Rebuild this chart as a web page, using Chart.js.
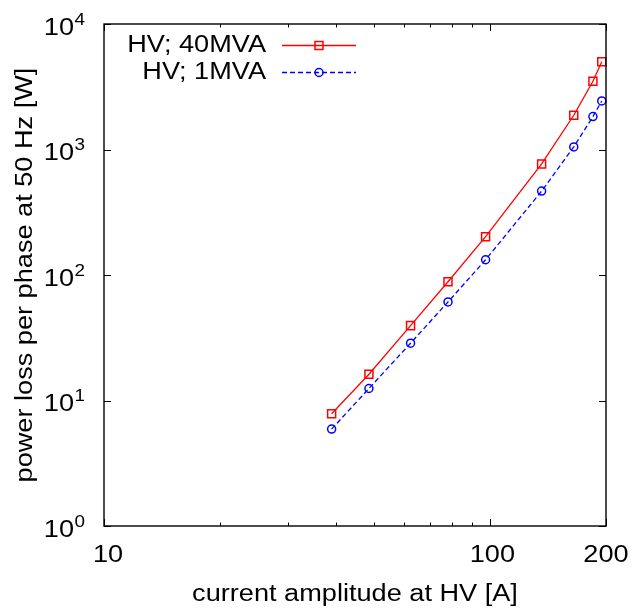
<!DOCTYPE html>
<html>
<head>
<meta charset="utf-8">
<script src="https://cdn.jsdelivr.net/npm/chart.js@4.4.1/dist/chart.umd.min.js"></script>
<style>
    html, body { margin: 0; padding: 0; background: #fff; }
    canvas { display: block; }
</style>
</head>
<body>
<canvas id="lossChart" width="636" height="614"></canvas>
<script>
// current amplitude at HV [A]
const current = [38.9, 48.6, 62.3, 77.9, 97.5, 136.2, 165, 185, 195];
// power loss per phase [W]
const loss40MVA = [7.84, 16.2, 39.5, 88.4, 202, 768, 1875, 3495, 5012];
const loss1MVA = [5.92, 12.46, 28.6, 61.0, 132.3, 466, 1049, 1830, 2436];

const seriesNames = ["HV; 40MVA", "HV; 1MVA"];
const xMajorTicks = [10, 100, 200];
const xMinorTicks = [20, 30, 40, 50, 60, 70, 80, 90];
const yMajorTicks = [1, 10, 100, 1000, 10000];
const xTickLabels = ["10", "100", "200"];
const yTickExponents = ["0", "1", "2", "3", "4"];

const FONT = '"Liberation Sans", Arial, Helvetica, sans-serif';
const STRETCH = 1.18; // the original text is a bit wider than Liberation Sans

function toPoints(xs, ys) {
    return xs.map((x, i) => ({ x: x, y: ys[i] }));
}

function wideText(ctx, text, x, y, size, align, angle) {
    ctx.save();
    ctx.translate(x, y);
    if (angle) ctx.rotate(angle);
    ctx.scale(STRETCH, 1);
    ctx.font = size + "px " + FONT;
    ctx.textAlign = align;
    ctx.fillText(text, 0, 0);
    ctx.restore();
}

// gnuplot style frame, inward ticks, labels, titles and key
const gnuplotFrame = {
    id: "gnuplotFrame",
    afterDraw(chart) {
        const ctx = chart.ctx;
        const area = chart.chartArea;
        const xs = chart.scales.x;
        const ys = chart.scales.y;
        ctx.save();

        ctx.strokeStyle = "#000";
        ctx.lineWidth = 1;
        ctx.beginPath();
        xMajorTicks.forEach(v => {
            const px = Math.round(xs.getPixelForValue(v)) + 0.5;
            ctx.moveTo(px, area.bottom); ctx.lineTo(px, area.bottom - 7);
            ctx.moveTo(px, area.top); ctx.lineTo(px, area.top + 7);
        });
        xMinorTicks.forEach(v => {
            const px = Math.round(xs.getPixelForValue(v)) + 0.5;
            ctx.moveTo(px, area.bottom); ctx.lineTo(px, area.bottom - 3.5);
            ctx.moveTo(px, area.top); ctx.lineTo(px, area.top + 3.5);
        });
        yMajorTicks.forEach(v => {
            const py = Math.round(ys.getPixelForValue(v)) + 0.5;
            ctx.moveTo(area.left, py); ctx.lineTo(area.left + 7, py);
            ctx.moveTo(area.right, py); ctx.lineTo(area.right - 7, py);
        });
        ctx.stroke();

        ctx.lineWidth = 1.4;
        ctx.strokeRect(area.left, area.top, area.right - area.left, area.bottom - area.top);

        // tick labels
        ctx.fillStyle = "#000";
        ctx.textBaseline = "alphabetic";
        const xNudge = [4, 2.5, 0];
        xMajorTicks.forEach((v, i) => {
            wideText(ctx, xTickLabels[i], xs.getPixelForValue(v) + xNudge[i], 562, 23, "center");
        });
        yMajorTicks.forEach((v, i) => {
            const py = ys.getPixelForValue(v);
            wideText(ctx, "10", 74, py + 10.5, 23, "right");
            wideText(ctx, yTickExponents[i], 74.5, py + 0.5, 16, "left");
        });

        // axis titles
        wideText(ctx, "current amplitude at HV [A]", (area.left + area.right) / 2, 601, 23, "center");
        wideText(ctx, "power loss per phase at 50 Hz [W]", 32, (area.top + area.bottom) / 2, 23, "center", -Math.PI / 2);

        // key
        const rows = [45, 72];
        chart.data.datasets.forEach((ds, i) => {
            const y = rows[i];
            ctx.textBaseline = "middle";
            ctx.fillStyle = "#000";
            wideText(ctx, seriesNames[i], 266, y + 1, 23, "right");
            ctx.strokeStyle = ds.borderColor;
            ctx.lineWidth = ds.borderWidth;
            ctx.setLineDash(ds.borderDash || []);
            ctx.beginPath();
            ctx.moveTo(282, y + 0.5);
            ctx.lineTo(356, y + 0.5);
            ctx.stroke();
            ctx.setLineDash([]);
            ctx.fillStyle = "#fff";
            ctx.lineWidth = ds.pointBorderWidth;
            ctx.beginPath();
            if (ds.pointStyle === "rect") {
                ctx.rect(315, y - 3.5, 8, 8);
            } else {
                ctx.arc(319, y + 0.5, 4, 0, Math.PI * 2);
            }
            ctx.stroke();
        });

        ctx.restore();
    }
};

new Chart(document.getElementById("lossChart"), {
    type: "line",
    data: {
        datasets: [
            {
                label: seriesNames[0],
                data: toPoints(current, loss40MVA),
                borderColor: "#ff0000",
                borderWidth: 1.3,
                pointStyle: "rect",
                pointRadius: 5.66,
                pointBorderWidth: 1.5,
                pointBorderColor: "#ff0000",
                pointBackgroundColor: "rgba(0,0,0,0)",
                fill: false,
                tension: 0,
                clip: false
            },
            {
                label: seriesNames[1],
                data: toPoints(current, loss1MVA),
                borderColor: "#0000ff",
                borderWidth: 1.3,
                borderDash: [5, 3],
                pointStyle: "circle",
                pointRadius: 4,
                pointBorderWidth: 1.5,
                pointBorderColor: "#0000ff",
                pointBackgroundColor: "rgba(0,0,0,0)",
                fill: false,
                tension: 0,
                clip: false
            }
        ]
    },
    options: {
        responsive: false,
        animation: false,
        layout: { padding: { top: 24, right: 30, left: 0, bottom: 0 } },
        plugins: {
            legend: { display: false },
            tooltip: { enabled: false }
        },
        scales: {
            x: {
                type: "logarithmic",
                min: 10,
                max: 200,
                ticks: { display: false },
                grid: { display: false },
                border: { display: false },
                afterFit: s => { s.height = 88; }
            },
            y: {
                type: "logarithmic",
                min: 1,
                max: 10000,
                ticks: { display: false },
                grid: { display: false },
                border: { display: false },
                afterFit: s => { s.width = 104; }
            }
        }
    },
    plugins: [gnuplotFrame]
});
</script>
</body>
</html>
